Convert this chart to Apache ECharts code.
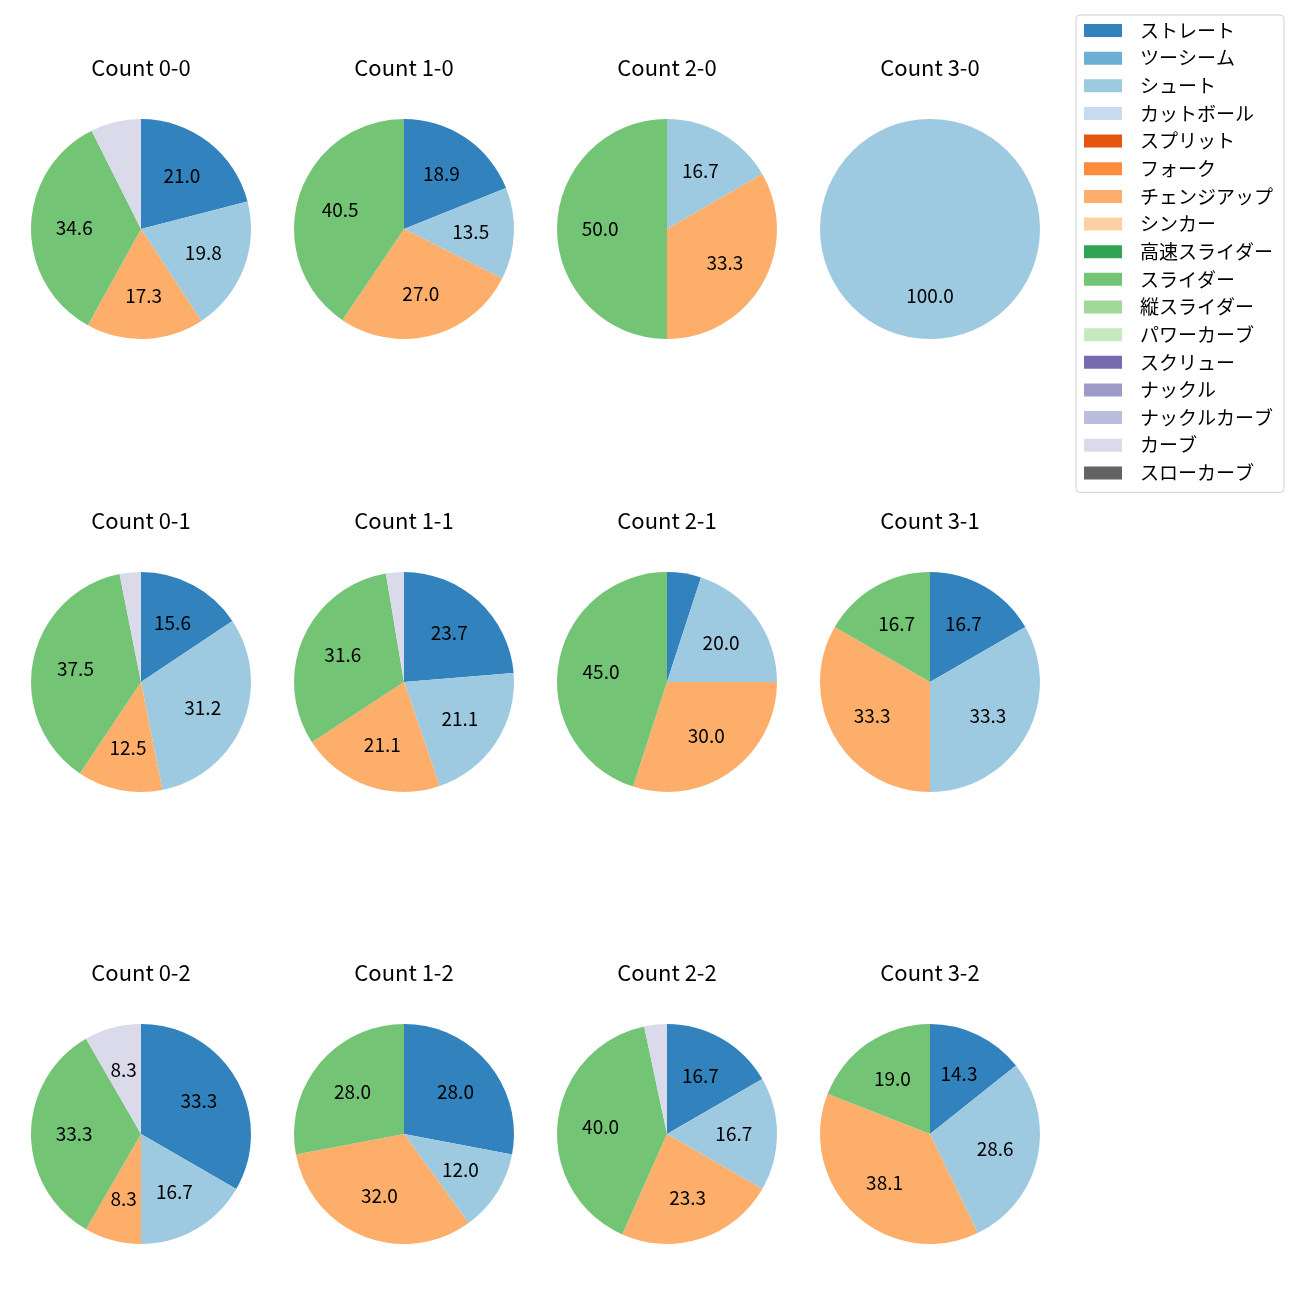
<!DOCTYPE html>
<html>
<head>
<meta charset="utf-8">
<script src="https://cdn.jsdelivr.net/npm/echarts@6/dist/echarts.min.js"></script>
<style>html,body{margin:0;padding:0;background:#fff;}#main{width:1300px;height:1300px;}</style>
</head>
<body>
<div id="main"></div>
<script>
const pitchTypes = ['ストレート','ツーシーム','シュート','カットボール','スプリット','フォーク','チェンジアップ','シンカー','高速スライダー','スライダー','縦スライダー','パワーカーブ','スクリュー','ナックル','ナックルカーブ','カーブ','スローカーブ'];
const pitchColors = ['#3182bd','#6baed6','#9ecae1','#c6dbef','#e6550d','#fd8d3c','#fdae6b','#fdd0a2','#31a354','#74c476','#a1d99b','#c7e9c0','#756bb1','#9e9ac8','#bcbddc','#dadaeb','#636363'];
const countTitles = ['Count 0-0','Count 1-0','Count 2-0','Count 3-0','Count 0-1','Count 1-1','Count 2-1','Count 3-1','Count 0-2','Count 1-2','Count 2-2','Count 3-2'];
// pitch counts per category, in pitchTypes order
const count00 = [17,0,16,0,0,0,14,0,0,28,0,0,0,0,0,6,0];
const count10 = [7,0,5,0,0,0,10,0,0,15,0,0,0,0,0,0,0];
const count20 = [0,0,1,0,0,0,2,0,0,3,0,0,0,0,0,0,0];
const count30 = [0,0,1,0,0,0,0,0,0,0,0,0,0,0,0,0,0];
const count01 = [5,0,10,0,0,0,4,0,0,12,0,0,0,0,0,1,0];
const count11 = [9,0,8,0,0,0,8,0,0,12,0,0,0,0,0,1,0];
const count21 = [1,0,4,0,0,0,6,0,0,9,0,0,0,0,0,0,0];
const count31 = [1,0,2,0,0,0,2,0,0,1,0,0,0,0,0,0,0];
const count02 = [4,0,2,0,0,0,1,0,0,4,0,0,0,0,0,1,0];
const count12 = [7,0,3,0,0,0,8,0,0,7,0,0,0,0,0,0,0];
const count22 = [5,0,5,0,0,0,7,0,0,12,0,0,0,0,0,1,0];
const count32 = [3,0,6,0,0,0,8,0,0,4,0,0,0,0,0,0,0];
const allCounts = [count00,count10,count20,count30,count01,count11,count21,count31,count02,count12,count22,count32];

const FONT = '"Noto Sans CJK JP", "Noto Sans", sans-serif';
const colX = [141, 404, 667, 930];
const rowY = [229, 682, 1134];
const R = 110;
const labelThreshold = 8;

// one-decimal formatting with round-half-to-even on exact ties
function fmt1(p) {
  const s = p * 10, f = Math.floor(s), d = s - f;
  let r;
  if (Math.abs(d - 0.5) < 1e-9) r = (f % 2 === 0) ? f : f + 1;
  else r = Math.round(s);
  return (r / 10).toFixed(1);
}

const series = [];
const titles = [];
allCounts.forEach((vals, i) => {
  const cx = colX[i % 4], cy = rowY[Math.floor(i / 4)];
  const total = vals.reduce((a, b) => a + b, 0);
  series.push({
    type: 'pie', center: [cx, cy], radius: [0, R], startAngle: 90, clockwise: true,
    label: {show: false}, labelLine: {show: false}, silent: true,
    itemStyle: {borderWidth: 0},
    emphasis: {disabled: true},
    data: pitchTypes.map((n, k) => ({name: n, value: vals[k], itemStyle: {color: pitchColors[k]}}))
  });
  series.push({
    type: 'pie', center: [cx, cy], radius: [R * 0.16, R], startAngle: 90, clockwise: true,
    silent: true, emphasis: {disabled: true},
    itemStyle: {color: 'rgba(0,0,0,0)', borderWidth: 0},
    labelLine: {show: false},
    data: pitchTypes.map((n, k) => {
      const p = total ? vals[k] / total * 100 : 0;
      return {name: n, value: vals[k],
        label: {show: p >= labelThreshold, position: 'inside', rotate: 0, formatter: fmt1(p),
          color: '#000', fontSize: 19, fontFamily: FONT}};
    })
  });
  titles.push({text: countTitles[i], left: cx, top: (cy - 229 + 69) - 12, textAlign: 'center', padding: 0,
    textStyle: {fontSize: 22, fontWeight: 'normal', color: '#000', fontFamily: FONT}});
});

const chart = echarts.init(document.getElementById('main'), null, {renderer: 'canvas'});
chart.setOption({
  animation: false,
  title: titles,
  legend: {
    orient: 'vertical', left: 1076, top: 15,
    data: pitchTypes,
    itemWidth: 38, itemHeight: 13, itemGap: 8.65,
    padding: [6, 11, 10, 8],
    borderColor: '#d0d0d0', borderWidth: 1, borderRadius: 4,
    icon: 'rect', selectedMode: false,
    textStyle: {fontSize: 19, lineHeight: 18, color: '#000', fontFamily: FONT, padding: [0, 0, 0, 13]}
  },
  series: series
});
</script>
</body>
</html>
